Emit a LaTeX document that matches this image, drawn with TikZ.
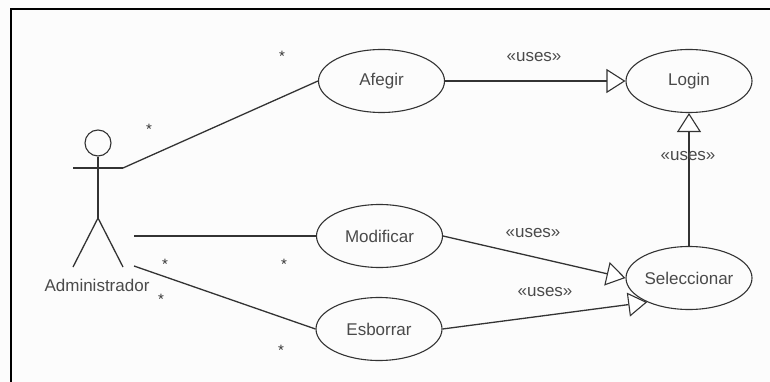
\documentclass[tikz,border=0pt]{standalone}
\usepackage{fontspec}
\setmainfont{Liberation Sans}
\usetikzlibrary{arrows.meta,shapes.geometric}
\definecolor{ink}{HTML}{333333}
\definecolor{txt}{HTML}{4A4A4A}
\tikzset{
  x=1pt,y=-1pt,
  usecase/.style={draw=ink,line width=1.1pt,ellipse,minimum width=126pt,minimum height=63pt,inner sep=0pt,text=txt,font=\fontsize{17}{19}\selectfont},
  assoc/.style={draw=ink,line width=1.3pt},
  uses/.style={assoc,-{Triangle[open,fill=white,length=19pt,width=24pt,line width=1.1pt]}},
  lbl/.style={text=txt,inner sep=0pt,font=\fontsize{17}{19}\selectfont},
  mult/.style={text=ink,inner sep=0pt,font=\fontsize{15}{17}\selectfont},
  actorline/.style={draw=ink,line width=1.3pt},
  frameline/.style={draw=black,line width=2pt}
}
\begin{document}
\begin{tikzpicture}
\useasboundingbox[fill=white!99!black] (0,0) rectangle (770,382);
\draw[frameline] (11,382) -- (11,9) -- (770,9);
% use cases
\node[usecase] (afegir) at (381.5,81) {Afegir};
\node[usecase] (login) at (689,81) {Login};
\node[usecase] (modificar) at (379.5,236) {Modificar};
\node[usecase] (esborrar) at (379,329) {Esborrar};
\node[usecase] (seleccionar) at (689,278) {Seleccionar};
% actor
\node[draw=ink,line width=1.1pt,circle,minimum size=26pt,inner sep=0pt] (head) at (98,143) {};
\coordinate (hip) at (98,218);
\coordinate (armL) at (73,168);
\coordinate (armR) at (123,168);
\coordinate (footL) at (73,267);
\coordinate (footR) at (123,267);
\coordinate (modStart) at (134,236);
\coordinate (esbStart) at (134,266);
\draw[actorline] (head.south) -- (hip);
\draw[actorline] (armL) -- (armR);
\draw[actorline] (footL) -- (hip) -- (footR);
\node[lbl] (admin) at (97,285) {Administrador};
% associations
\draw[assoc] (armR) -- (afegir.west);
\draw[assoc] (modStart) -- (modificar.west);
\draw[assoc] (esbStart) -- (esborrar.west);
% uses
\draw[uses] (afegir.east) -- (login.west);
\draw[uses] (seleccionar.north) -- (login.south);
\draw[uses] (modificar.east) -- (seleccionar.west);
\draw[uses] (esborrar.east) -- (seleccionar.210);
% labels
\node[lbl] (u1) at (534,57) {«uses»};
\node[lbl] (u2) at (688,156) {«uses»};
\node[lbl] (u3) at (533,233) {«uses»};
\node[lbl] (u4) at (545,292) {«uses»};
\node[mult] (m1) at (282,56) {*};
\node[mult] (m2) at (149,129) {*};
\node[mult] (m3) at (165,264) {*};
\node[mult] (m4) at (284,264) {*};
\node[mult] (m5) at (161,299) {*};
\node[mult] (m6) at (281,350) {*};
\end{tikzpicture}
\end{document}
